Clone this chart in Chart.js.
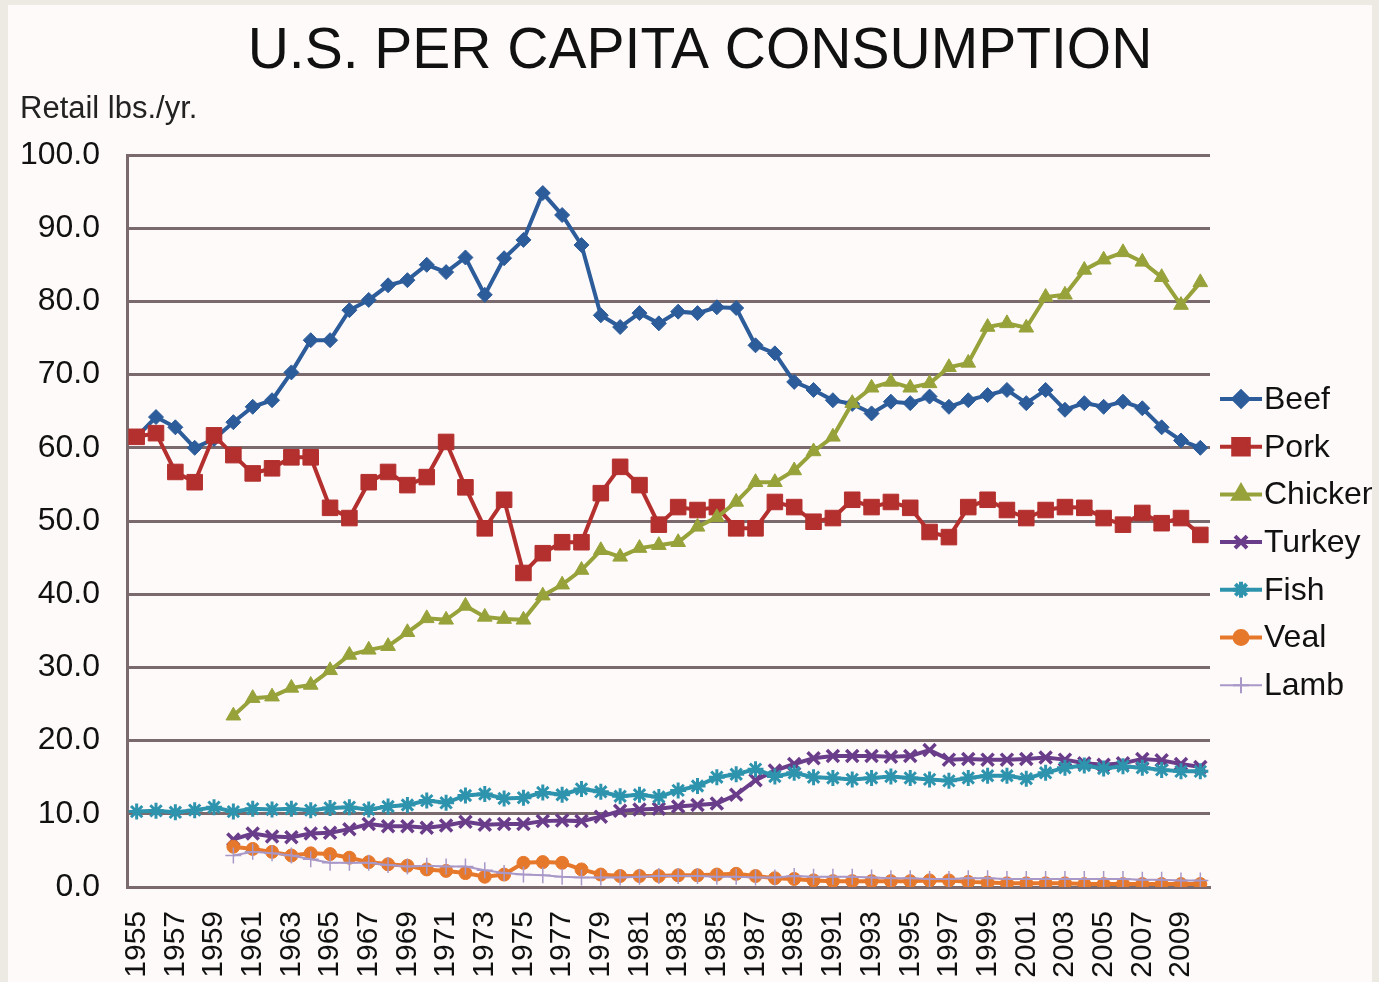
<!DOCTYPE html>
<html>
<head>
<meta charset="utf-8">
<title>U.S. Per Capita Consumption</title>
<script src="https://cdn.jsdelivr.net/npm/chart.js"></script>
<style>
  html, body { margin: 0; padding: 0; background: #ECEAE2; }
  #wrap { position: relative; width: 1379px; height: 982px; overflow: hidden; }
  #inner { position: absolute; left: 8px; top: 5px; width: 1364px; height: 977px; background: #FFFAFA; }
  #grafico { position: absolute; left: 0; top: 0; }
</style>
</head>
<body>
<div id="wrap">
  <div id="inner"></div>
  <canvas id="grafico" width="1379" height="982"></canvas>
</div>
<script>
// anos
const anos = ['1955','1956','1957','1958','1959','1960','1961','1962','1963','1964',
  '1965','1966','1967','1968','1969','1970','1971','1972','1973','1974',
  '1975','1976','1977','1978','1979','1980','1981','1982','1983','1984',
  '1985','1986','1987','1988','1989','1990','1991','1992','1993','1994',
  '1995','1996','1997','1998','1999','2000','2001','2002','2003','2004',
  '2005','2006','2007','2008','2009','2010'];

// consumo per capita (lbs/ano, peso de varejo)
const beef = [61.5, 64.2, 62.8, 60.0, 61.2, 63.5, 65.6, 66.5, 70.3, 74.7,
  74.7, 78.8, 80.2, 82.2, 82.9, 85.0, 84.0, 86.0, 80.9, 85.9,
  88.4, 94.8, 91.8, 87.7, 78.1, 76.5, 78.4, 77.0, 78.6, 78.4,
  79.2, 79.1, 74.0, 72.9, 69.0, 67.9, 66.5, 66.0, 64.7, 66.3,
  66.1, 67.0, 65.6, 66.5, 67.2, 67.9, 66.1, 67.9, 65.2, 66.1,
  65.6, 66.3, 65.4, 62.8, 61.0, 60.0];
const pork = [61.5, 62.0, 56.7, 55.3, 61.7, 59.0, 56.5, 57.2, 58.7, 58.7,
  51.8, 50.4, 55.3, 56.7, 54.9, 56.0, 60.8, 54.6, 49.0, 52.9,
  42.9, 45.6, 47.1, 47.1, 53.8, 57.4, 54.9, 49.5, 51.9, 51.5,
  51.9, 49.0, 49.0, 52.6, 51.9, 49.9, 50.4, 52.9, 51.9, 52.6,
  51.8, 48.5, 47.8, 51.9, 52.9, 51.5, 50.4, 51.5, 51.9, 51.8,
  50.4, 49.5, 51.1, 49.7, 50.4, 48.1];
const chicken = [null, null, null, null, null, 23.4, 25.8, 26.0, 27.2, 27.6,
  29.6, 31.7, 32.4, 32.9, 34.8, 36.7, 36.5, 38.4, 36.9, 36.6,
  36.5, 39.8, 41.3, 43.3, 46.0, 45.1, 46.3, 46.7, 47.1, 49.2,
  50.5, 52.6, 55.3, 55.3, 56.9, 59.5, 61.5, 66.1, 68.2, 69.0,
  68.2, 68.8, 71.0, 71.6, 76.5, 77.0, 76.4, 80.6, 80.9, 84.3,
  85.7, 86.7, 85.4, 83.3, 79.5, 82.6];
const turkey = [null, null, null, null, null, 6.5, 7.3, 6.9, 6.8, 7.3,
  7.4, 7.9, 8.6, 8.3, 8.3, 8.1, 8.4, 8.9, 8.5, 8.6,
  8.6, 9.0, 9.1, 9.0, 9.6, 10.4, 10.6, 10.7, 11.0, 11.2,
  11.4, 12.6, 14.6, 15.9, 16.8, 17.6, 17.9, 17.9, 17.9, 17.8,
  17.9, 18.7, 17.4, 17.5, 17.4, 17.4, 17.5, 17.7, 17.4, 16.9,
  16.7, 16.9, 17.5, 17.3, 16.8, 16.4];
const fish = [10.3, 10.4, 10.2, 10.5, 10.9, 10.3, 10.7, 10.6, 10.7, 10.5,
  10.8, 10.9, 10.6, 11.0, 11.2, 11.8, 11.5, 12.5, 12.7, 12.1,
  12.2, 12.9, 12.6, 13.4, 13.0, 12.4, 12.6, 12.3, 13.2, 13.8,
  15.0, 15.4, 16.1, 15.1, 15.6, 15.0, 14.9, 14.7, 14.9, 15.1,
  14.9, 14.7, 14.5, 14.9, 15.2, 15.2, 14.8, 15.6, 16.3, 16.6,
  16.2, 16.5, 16.3, 16.0, 15.8, 15.8];
const veal = [null, null, null, null, null, 5.5, 5.2, 4.8, 4.3, 4.6,
  4.5, 4.0, 3.4, 3.1, 2.9, 2.4, 2.2, 1.9, 1.4, 1.7,
  3.3, 3.4, 3.3, 2.4, 1.7, 1.5, 1.5, 1.5, 1.6, 1.6,
  1.7, 1.8, 1.5, 1.2, 1.1, 0.9, 0.8, 0.8, 0.8, 0.8,
  0.8, 0.9, 0.9, 0.7, 0.6, 0.5, 0.5, 0.5, 0.5, 0.4,
  0.4, 0.4, 0.4, 0.4, 0.4, 0.4];
const lamb = [null, null, null, null, null, 4.3, 4.8, 4.6, 4.3, 3.8,
  3.3, 3.3, 3.3, 3.0, 2.8, 2.9, 2.8, 2.8, 2.3, 1.9,
  1.7, 1.6, 1.4, 1.3, 1.3, 1.3, 1.4, 1.5, 1.5, 1.5,
  1.4, 1.4, 1.3, 1.3, 1.5, 1.4, 1.4, 1.4, 1.3, 1.2,
  1.2, 1.1, 1.1, 1.2, 1.2, 1.1, 1.1, 1.1, 1.1, 1.1,
  1.1, 1.1, 1.0, 1.0, 0.9, 0.9];

const ticksY = [0, 10, 20, 30, 40, 50, 60, 70, 80, 90, 100];

const FONTE = '"Liberation Sans", Arial, sans-serif';

function serie(label, data, cor, estilo, raio, larguraLinha, larguraPonto, ordem) {
    return {
        label: label,
        data: data,
        borderColor: cor,
        backgroundColor: cor,
        borderWidth: larguraLinha,
        pointStyle: estilo,
        pointRadius: raio,
        pointBorderWidth: larguraPonto,
        pointBackgroundColor: cor,
        pointBorderColor: cor,
        tension: 0,
        spanGaps: false,
        order: ordem
    };
}

const series = [
    serie('Beef', beef, '#2D5C9A', 'rectRot', 7.5, 4, 1, 7),
    serie('Pork', pork, '#B3302E', 'rect', 11, 4, 1, 6),
    serie('Chicken', chicken, '#98A23A', 'triangle', 8.5, 4, 1, 5),
    serie('Turkey', turkey, '#6A3D8A', 'crossRot', 8.5, 4, 3.5, 4),
    serie('Fish', fish, '#2E94AE', 'star', 8, 4, 3, 3),
    serie('Veal', veal, '#E6782C', 'circle', 6.5, 4, 1, 2),
    serie('Lamb', lamb, '#A898C8', 'cross', 8, 2, 1.5, 1)
];

// textos, legenda e moldura
const extras = {
    id: 'extras',
    afterDraw(chart) {
        const ctx = chart.ctx;
        ctx.save();
        ctx.fillStyle = '#111';
        ctx.font = '57px ' + FONTE;
        ctx.textAlign = 'center';
        ctx.textBaseline = 'alphabetic';
        ctx.fillText('U.S. PER CAPITA CONSUMPTION', 700, 68);

        ctx.font = '31px ' + FONTE;
        ctx.textAlign = 'left';
        ctx.fillStyle = '#222';
        ctx.fillText('Retail lbs./yr.', 20, 118);

        // legenda
        chart.data.datasets.forEach(function (ds, i) {
            const y = 399 + 47.7 * i;
            ctx.strokeStyle = ds.borderColor;
            ctx.lineWidth = ds.borderWidth;
            ctx.beginPath();
            ctx.moveTo(1220, y);
            ctx.lineTo(1262, y);
            ctx.stroke();
            ctx.fillStyle = ds.borderColor;
            if (Chart.helpers && Chart.helpers.drawPoint) {
                Chart.helpers.drawPoint(ctx, {
                    pointStyle: ds.pointStyle,
                    radius: ds.pointRadius,
                    borderWidth: ds.pointBorderWidth,
                    rotation: 0
                }, 1241, y);
            }
            ctx.fillStyle = '#111';
            ctx.font = '32px ' + FONTE;
            ctx.textAlign = 'left';
            ctx.textBaseline = 'middle';
            ctx.fillText(ds.label, 1264, y + 1);
        });

        // moldura
        ctx.fillStyle = '#ECEAE2';
        ctx.fillRect(0, 0, 8, 982);
        ctx.fillRect(0, 0, 1379, 5);
        ctx.fillRect(1372, 0, 7, 982);
        ctx.restore();
    }
};

const ctxGrafico = document.getElementById('grafico').getContext('2d');
const grafico = new Chart(ctxGrafico, {
    type: 'line',
    data: {
        labels: anos,
        datasets: series
    },
    options: {
        responsive: false,
        animation: false,
        devicePixelRatio: 1,
        layout: {
            padding: { left: 0, right: 169, top: 155, bottom: 0 }
        },
        plugins: {
            legend: { display: false },
            tooltip: { enabled: false },
            title: { display: false }
        },
        scales: {
            x: {
                offset: true,
                grid: { display: false, drawTicks: false },
                border: { display: true, color: '#7A6A6E', width: 3 },
                ticks: {
                    autoSkip: false,
                    maxRotation: 90,
                    minRotation: 90,
                    padding: 24,
                    color: '#111',
                    font: { family: FONTE, size: 30 },
                    callback: function (valor, indice) {
                        return indice % 2 === 0 ? anos[indice] : '';
                    }
                },
                afterFit: function (eixo) { eixo.height = 95; }
            },
            y: {
                min: ticksY[0],
                max: ticksY[ticksY.length - 1],
                afterBuildTicks: function (eixo) {
                    eixo.ticks = ticksY.map(function (v) { return { value: v }; });
                },
                grid: { color: '#7A6A6E', lineWidth: 3, drawTicks: false },
                border: { display: true, color: '#7A6A6E', width: 3 },
                ticks: {
                    padding: 27,
                    color: '#111',
                    font: { family: FONTE, size: 32 },
                    callback: function (v) { return v.toFixed(1); }
                },
                afterFit: function (eixo) { eixo.width = 127; }
            }
        }
    },
    plugins: [extras]
});
</script>
</body>
</html>
